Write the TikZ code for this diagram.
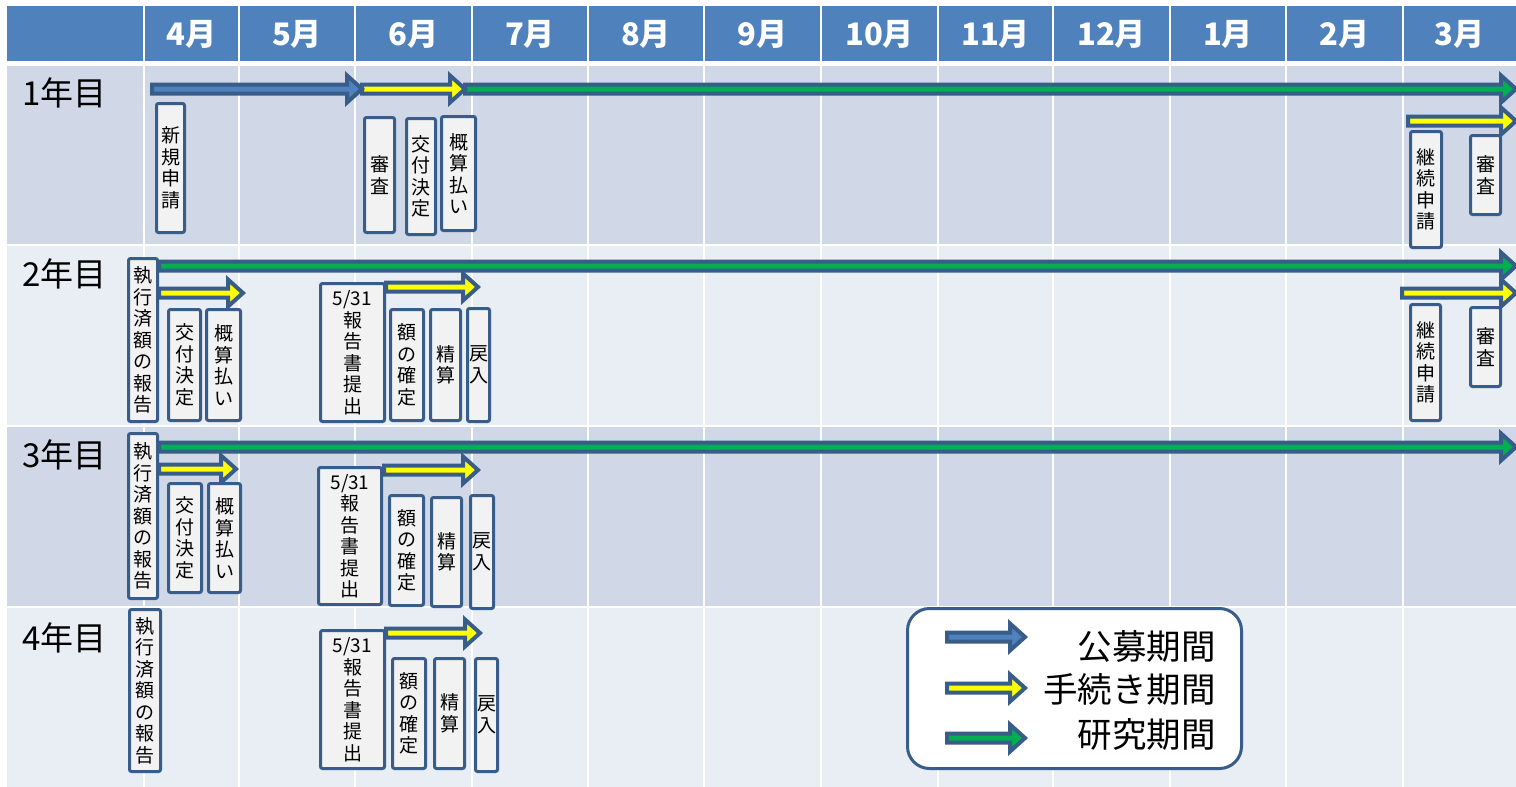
\documentclass[tikz,border=0pt]{standalone}
\usepackage{fontspec}
\setmainfont{Noto Sans CJK JP}
% block arrow: fill colour, start x, tip x, centre y
\newcommand{\pdarrow}[4]{%
  \draw [edge,line width=4pt,fill=#1,line join=miter]
  (#2,#4-4.5) -- (#3-15,#4-4.5) -- (#3-15,#4-13.5) -- (#3,#4) -- (#3-15,#4+13.5) -- (#3-15,#4+4.5) -- (#2,#4+4.5) -- cycle;}
\begin{document}
\begin{tikzpicture}[x=1pt,y=-1pt,
  tbox/.style={draw=edge,line width=3pt,fill=boxfill,rounded corners=2pt,inner sep=0pt,align=center,font=\fontsize{19}{21.5}\selectfont},
  month/.style={text=white,inner sep=0pt,font=\bfseries\fontsize{31}{31}\selectfont},
  yearlab/.style={anchor=west,inner sep=0pt,font=\fontsize{33}{33}\selectfont},
  legtext/.style={anchor=east,inner sep=0pt,font=\fontsize{34.5}{34.5}\selectfont}]
  \definecolor{headblue}{HTML}{4F81BD}
  \definecolor{rowdark}{HTML}{D0D8E8}
  \definecolor{rowlight}{HTML}{E9EDF4}
  \definecolor{edge}{HTML}{385D8A}
  \definecolor{boxfill}{HTML}{F2F2F2}
  \definecolor{pdyellow}{HTML}{FFFF00}
  \definecolor{pdgreen}{HTML}{00B050}
  \useasboundingbox [fill=white] (0,0) rectangle (1516,787);
  % table
  \fill [headblue] (7,6) rectangle (1516,61);
  \fill [rowdark] (7,66) rectangle (1516,244);
  \fill [rowlight] (7,246) rectangle (1516,425);
  \fill [rowdark] (7,427) rectangle (1516,606);
  \fill [rowlight] (7,608) rectangle (1516,787);
  \foreach \x in {144,239,355,472,588,704,821,938,1053,1170,1286,1403}
    \draw [white,line width=2.5pt] (\x,6) -- (\x,787);
  \foreach \a/\b/\m in {144/239/4,239/355/5,355/472/6,472/588/7,588/704/8,704/821/9,821/938/10,938/1053/11,1053/1170/12,1170/1286/1,1286/1403/2,1403/1516/3}
    \node [month] (m\m) at ({(\a+\b)/2},34) {\m 月};
  \node [yearlab] (y1) at (22,93) {1年目};
  \node [yearlab] (y2) at (22,274) {2年目};
  \node [yearlab] (y3) at (22,455) {3年目};
  \node [yearlab] (y4) at (22,638) {4年目};
  % 1st year
  \pdarrow{pdgreen}{465}{1516}{89}
  \pdarrow{pdyellow}{362}{465}{89}
  \pdarrow{headblue}{152}{362}{89}
  \pdarrow{pdyellow}{1408}{1516}{121}
  \node [tbox,minimum width=28,minimum height=129] (shinki1) at (170.5,168) {新\\規\\申\\請};
  \node [tbox,minimum width=30,minimum height=115] (shinsa1) at (379.5,175) {審\\査};
  \node [tbox,minimum width=29,minimum height=116] (kofu1) at (421,176.5) {交\\付\\決\\定};
  \node [tbox,minimum width=34,minimum height=114] (gaisan1) at (458.5,173.5) {概\\算\\払\\い};
  \node [tbox,minimum width=31,minimum height=116] (keizoku1) at (1426,189.5) {継\\続\\申\\請};
  \node [tbox,minimum width=30,minimum height=79] (shinsa1r) at (1485.5,175) {審\\査};
  % 2nd year
  \pdarrow{pdgreen}{159}{1516}{266}
  \pdarrow{pdyellow}{159}{243}{293}
  \pdarrow{pdyellow}{386}{478}{287}
  \pdarrow{pdyellow}{1402}{1516}{293}
  \node [tbox,minimum width=29,minimum height=163] (shikko2) at (143,340) {執\\行\\済\\額\\の\\報\\告};
  \node [tbox,minimum width=32,minimum height=111] (kofu2) at (184.5,365) {交\\付\\決\\定};
  \node [tbox,minimum width=34,minimum height=111] (gaisan2) at (223.5,365) {概\\算\\払\\い};
  \node [tbox,minimum width=64,minimum height=138] (hokoku2) at (352.5,352.5) {5/31\\報\\告\\書\\提\\出};
  \node [tbox,minimum width=33,minimum height=111] (gaku2) at (407,365) {額\\の\\確\\定};
  \node [tbox,minimum width=30,minimum height=111] (seisan2) at (445.5,365) {精\\算};
  \node [tbox,minimum width=22,minimum height=113] (reinyu2) at (478.5,365) {戻\\入};
  \node [tbox,minimum width=30,minimum height=116] (keizoku2) at (1425.5,362.5) {継\\続\\申\\請};
  \node [tbox,minimum width=30,minimum height=79] (shinsa2) at (1485.5,347) {審\\査};
  % 3rd year
  \pdarrow{pdgreen}{159}{1516}{447}
  \pdarrow{pdyellow}{159}{236}{469}
  \pdarrow{pdyellow}{384}{478}{470}
  \node [tbox,minimum width=29,minimum height=165] (shikko3) at (143,516) {執\\行\\済\\額\\の\\報\\告};
  \node [tbox,minimum width=33,minimum height=109] (kofu3) at (185,538) {交\\付\\決\\定};
  \node [tbox,minimum width=32,minimum height=109] (gaisan3) at (224.5,538) {概\\算\\払\\い};
  \node [tbox,minimum width=63,minimum height=137] (hokoku3) at (350,536) {5/31\\報\\告\\書\\提\\出};
  \node [tbox,minimum width=34,minimum height=110] (gaku3) at (406.5,550.5) {額\\の\\確\\定};
  \node [tbox,minimum width=30,minimum height=109] (seisan3) at (446.5,552) {精\\算};
  \node [tbox,minimum width=23,minimum height=113] (reinyu3) at (482,552) {戻\\入};
  % 4th year
  \pdarrow{pdyellow}{386}{480}{633}
  \node [tbox,minimum width=31,minimum height=162] (shikko4) at (145,690.5) {執\\行\\済\\額\\の\\報\\告};
  \node [tbox,minimum width=64,minimum height=138] (hokoku4) at (352.5,699.5) {5/31\\報\\告\\書\\提\\出};
  \node [tbox,minimum width=33,minimum height=110] (gaku4) at (409,713.5) {額\\の\\確\\定};
  \node [tbox,minimum width=30,minimum height=110] (seisan4) at (449.5,713.5) {精\\算};
  \node [tbox,minimum width=22,minimum height=113] (reinyu4) at (486.5,715) {戻\\入};
  % legend
  \node [draw=edge,line width=3pt,fill=white,rounded corners=22pt,minimum width=334,minimum height=160] (legend) at (1074.5,688.5) {};
  \pdarrow{headblue}{947}{1025}{637}
  \pdarrow{pdyellow}{947}{1025}{688}
  \pdarrow{pdgreen}{947}{1025}{738}
  \node [legtext] (kobo) at (1216,646) {公募期間};
  \node [legtext] (tetsuzuki) at (1216,689) {手続き期間};
  \node [legtext] (kenkyu) at (1216,734) {研究期間};
\end{tikzpicture}
\end{document}
